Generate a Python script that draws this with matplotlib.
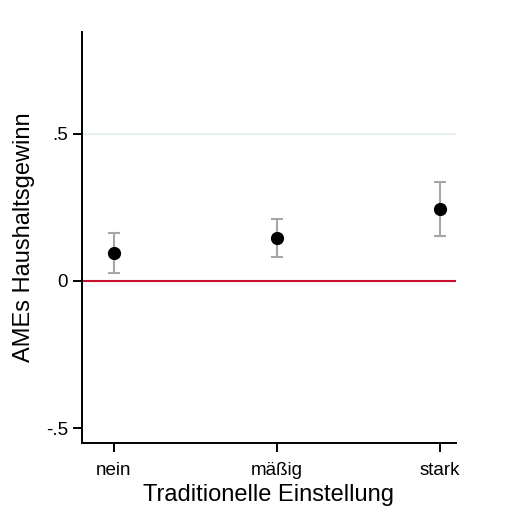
import numpy as np
import matplotlib
matplotlib.use('Agg')
import matplotlib.pyplot as plt

plt.rcParams['font.family'] = ['Liberation Sans', 'DejaVu Sans']

# Data
categories = ['nein', 'mäßig', 'stark']
ame = [0.096, 0.145, 0.245]
ci_low = [0.026, 0.081, 0.154]
ci_high = [0.164, 0.211, 0.337]
y_ticks = [-0.5, 0, 0.5]
y_tick_labels = ['-.5', '0', '.5']

x = np.arange(1, len(categories) + 1)
ame = np.array(ame)
err = np.array([ame - np.array(ci_low), np.array(ci_high) - ame])

fig = plt.figure(figsize=(5.29, 5.30), dpi=100)
ax = fig.add_axes([0.155, 0.164, 0.707, 0.776])

# reference lines
ax.axhline(0.5, color='#e3eded', lw=1.2, zorder=1)
ax.axhline(0, color='#c8102e', lw=1.5, zorder=1)

# confidence intervals and point estimates
ax.errorbar(x, ame, yerr=err, fmt='none', ecolor='#a6a6a6',
            elinewidth=1.5, capsize=4.5, capthick=1.5, zorder=2)
ax.plot(x, ame, 'o', color='black', markersize=8.5, zorder=3)

ax.set_xlim(0.804, 3.098)
ax.set_ylim(-0.551, 0.847)
ax.set_xticks(x)
ax.set_xticklabels(categories, fontsize=13.5)
ax.set_yticks(y_ticks)
ax.set_yticklabels(y_tick_labels, fontsize=13.5)

ax.set_xlabel('Traditionelle Einstellung', fontsize=17, labelpad=4)
ax.set_ylabel('AMEs Haushaltsgewinn', fontsize=17, labelpad=8)

for side in ['top', 'right']:
    ax.spines[side].set_visible(False)
for side in ['left', 'bottom']:
    ax.spines[side].set_linewidth(1.4)
ax.tick_params(axis='both', width=1.4, length=6.5, color='black')
ax.tick_params(axis='x', pad=7)

fig.savefig('out.png', dpi=100, facecolor='white')
